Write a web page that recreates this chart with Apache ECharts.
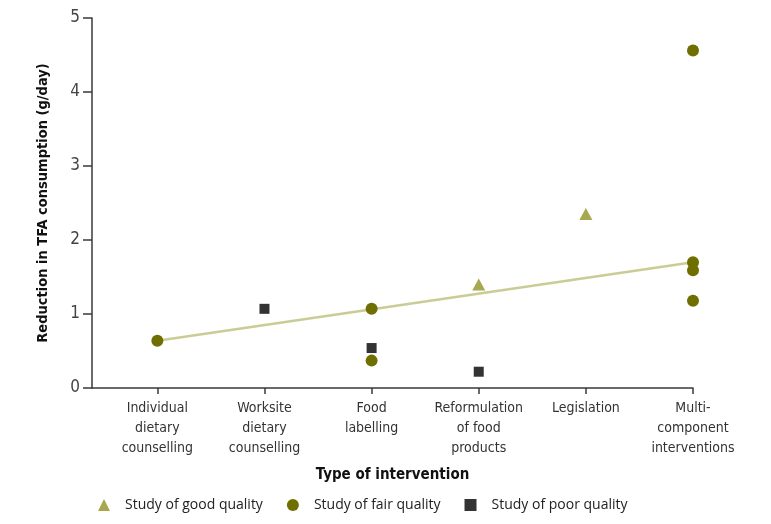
<!DOCTYPE html>
<html><head><meta charset="utf-8">
<script src="https://cdn.jsdelivr.net/npm/echarts@6/dist/echarts.min.js"></script>
<style>html,body{margin:0;padding:0;background:#fff}#c{width:771px;height:524px}</style>
</head><body><div id="c"></div>
<script>
var categories = ['Individual\ndietary\ncounselling','Worksite\ndietary\ncounselling','Food\nlabelling','Reformulation\nof food\nproducts','Legislation','Multi-\ncomponent\ninterventions'];
var yTicks = [0,1,2,3,4,5];
// [category index (1-based), reduction g/day]
var goodQuality = [[4,1.40],[5,2.35]];
var fairQuality = [[1,0.64],[3,1.07],[3,0.37],[6,4.56],[6,1.70],[6,1.59],[6,1.18]];
var poorQuality = [[2,1.07],[3,0.54],[4,0.22]];
var trendLine = [[1,0.64],[6,1.70]];
var seriesNames = ['Study of good quality','Study of fair quality','Study of poor quality'];

var chart = echarts.init(document.getElementById('c'));
var axisColor = '#3a3a3a';
var condensed = '"DejaVu Sans Condensed", "Liberation Sans Narrow", sans-serif';
chart.setOption({
  animation:false,
  grid:{left:92,right:78,top:18,bottom:136},
  xAxis:{
    type:'value', min:0.39, max:6,
    name:'Type of intervention', nameLocation:'middle', nameGap:80,
    nameTextStyle:{fontFamily:condensed,fontWeight:'bold',fontSize:15,color:'#111'},
    axisLine:{show:true,lineStyle:{color:axisColor,width:1.5}},
    axisTick:{show:true,length:6,lineStyle:{color:axisColor,width:1.5},customValues:[1,2,3,4,5,6]},
    axisLabel:{customValues:[1,2,3,4,5,6],fontFamily:condensed,fontSize:14,color:'#333',lineHeight:20,margin:10,
      formatter:function(v){return categories[Math.round(v)-1]||'';}},
    splitLine:{show:false}
  },
  yAxis:{
    type:'value', min:0, max:5, interval:1,
    name:'Reduction in TFA consumption (g/day)', nameLocation:'middle', nameGap:41,
    nameTextStyle:{fontFamily:condensed,fontWeight:'bold',fontSize:14.5,color:'#111'},
    axisLine:{show:true,lineStyle:{color:axisColor,width:1.5}},
    axisTick:{show:true,length:9,lineStyle:{color:axisColor,width:1.5}},
    axisLabel:{fontFamily:condensed,fontSize:17,color:'#444',margin:12,
      formatter:function(v){return yTicks.indexOf(v)>=0?String(v):'';}},
    splitLine:{show:false}
  },
  legend:{
    bottom:7, left:93, itemWidth:12, itemHeight:12, itemGap:24,
    textStyle:{fontFamily:'"Open Sans", sans-serif',fontSize:14,color:'#222',padding:[0,0,0,10]},
    data:[{name:seriesNames[0],icon:'triangle'},{name:seriesNames[1],icon:'circle'},{name:seriesNames[2],icon:'rect'}]
  },
  series:[
    {type:'line',data:trendLine,symbol:'none',lineStyle:{color:'#c9cc95',width:2.5},z:1,silent:true},
    {name:seriesNames[0],type:'scatter',data:goodQuality,symbol:'triangle',symbolSize:[13,12],itemStyle:{color:'#a7a850',opacity:1},z:3},
    {name:seriesNames[1],type:'scatter',data:fairQuality,symbol:'circle',symbolSize:12,itemStyle:{color:'#6f6f00',opacity:1},z:3},
    {name:seriesNames[2],type:'scatter',data:poorQuality,symbol:'rect',symbolSize:10,itemStyle:{color:'#333333',opacity:1},z:3}
  ]
});
</script></body></html>
